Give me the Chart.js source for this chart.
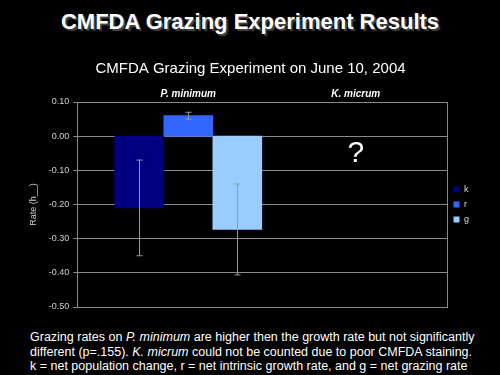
<!DOCTYPE html>
<html>
<head>
<meta charset="utf-8">
<script src="https://cdn.jsdelivr.net/npm/chart.js@4"></script>
<style>
  html, body { margin: 0; padding: 0; background: #000; }
  body { width: 500px; height: 375px; position: relative; overflow: hidden; font-family: 'Liberation Sans', Arial, sans-serif; color: #fff; }
  .slide-title { position: absolute; top: 9px; left: 0; width: 500px; text-align: center; font-size: 22px; font-weight: bold; text-shadow: 2px 2px 1px #444; }
  .chart-box { position: absolute; left: 0; top: 50px; width: 500px; height: 270px; }
  .caption { position: absolute; left: 30px; top: 330px; width: 465px; font-size: 12.5px; line-height: 14.5px; }
</style>
</head>
<body>
<div class="slide-title">CMFDA Grazing Experiment Results</div>
<div class="chart-box"><canvas id="chart"></canvas></div>
<div class="caption">
  Grazing rates on <i>P. minimum</i> are higher then the growth rate but not significantly<br>
  different (p=.155). <i>K. micrum</i> could not be counted due to poor CMFDA staining.<br>
  k = net population change, r = net intrinsic growth rate, and g = net grazing rate
</div>
<script>
const categories = ['P. minimum', 'K. micrum']
const seriesNames = ['k', 'r', 'g']
const kValues = [-0.21, null]
const rValues = [0.06, null]
const gValues = [-0.273, null]
const kErrors = [0.14, null]
const rErrors = [0.01, null]
const gErrors = [0.133, null]
const seriesColors = ['#000080', '#3366ff', '#99ccff']
const missingLabel = '?'

const values = [kValues, rValues, gValues]
const errors = [kErrors, rErrors, gErrors]

// error bars, plot frame and the "?" for the species that could not be counted
const extras = {
  id: 'extras',
  afterDatasetsDraw(chart) {
    const ctx = chart.ctx
    const y = chart.scales.y
    const x = chart.scales.x
    ctx.save()
    ctx.strokeStyle = '#9a9a9a'
    ctx.lineWidth = 1
    values.forEach((vals, i) => {
      const meta = chart.getDatasetMeta(i)
      meta.data.forEach((bar, j) => {
        if (vals[j] == null) return
        const px = Math.round(bar.x) + 0.5
        const top = y.getPixelForValue(vals[j] + errors[i][j])
        const bottom = y.getPixelForValue(vals[j] - errors[i][j])
        ctx.beginPath()
        ctx.moveTo(px, top); ctx.lineTo(px, bottom)
        ctx.moveTo(px - 3, top); ctx.lineTo(px + 3, top)
        ctx.moveTo(px - 3, bottom); ctx.lineTo(px + 3, bottom)
        ctx.stroke()
      })
    })
    const a = chart.chartArea
    ctx.strokeStyle = '#8a8a8a'
    ctx.strokeRect(Math.round(a.left) + 0.5, Math.round(a.top) + 0.5, Math.round(a.right - a.left), Math.round(a.bottom - a.top))
    categories.forEach((c, j) => {
      if (values.every(v => v[j] == null)) {
        ctx.fillStyle = '#fff'
        ctx.font = '30px "Liberation Sans", Arial'
        ctx.textAlign = 'center'
        ctx.textBaseline = 'middle'
        ctx.fillText(missingLabel, x.getPixelForValue(j + 1), y.getPixelForValue(-0.05))
      }
    })
    ctx.restore()
  }
}

const datasets = seriesNames.map((name, i) => ({
  label: name,
  data: categories.map((c, j) => ({ x: j + 1, y: values[i][j] })),
  backgroundColor: seriesColors[i],
  borderWidth: 0,
  barThickness: 49,
}))

new Chart(document.getElementById('chart'), {
  type: 'bar',
  data: { datasets },
  options: {
    responsive: true,
    maintainAspectRatio: false,
    animation: false,
    layout: { padding: { left: 22, right: 21, bottom: 13 } },
    scales: {
      x: {
        type: 'linear',
        position: 'top',
        offset: false,
        min: 0.337,
        max: 2.548,
        grid: { display: false, drawTicks: false },
        border: { display: false },
        afterBuildTicks: (scale) => { scale.ticks = categories.map((c, j) => ({ value: j + 1 })) },
        ticks: {
          color: '#fff',
          padding: 2,
          maxRotation: 0,
          font: { family: 'Liberation Sans', size: 10, weight: 'bold', style: 'italic' },
          callback: (v) => categories[v - 1],
        },
      },
      y: {
        min: -0.5,
        max: 0.1,
        grid: { color: '#8a8a8a', tickLength: 4 },
        border: { color: '#8a8a8a' },
        ticks: {
          stepSize: 0.1,
          color: '#d0d0d0',
          padding: 4,
          font: { family: 'Liberation Sans', size: 9 },
          callback: (v) => (Math.abs(v) < 1e-9 ? 0 : v).toFixed(2),
        },
        title: { display: true, text: 'Rate (h__)', color: '#d0d0d0', font: { family: 'Liberation Sans', size: 9 }, padding: 6 },
      },
    },
    plugins: {
      title: {
        display: true,
        text: 'CMFDA Grazing Experiment on June 10, 2004',
        color: '#fff',
        font: { family: 'Liberation Sans', size: 15, weight: 'normal' },
        padding: { top: 10, bottom: 8 },
      },
      legend: {
        position: 'right',
        fullSize: false,
        labels: { color: '#ddd', boxWidth: 6, boxHeight: 6, padding: 6, font: { family: 'Liberation Sans', size: 9 } },
      },
      tooltip: { enabled: false },
    },
  },
  plugins: [extras],
})
</script>
</body>
</html>
